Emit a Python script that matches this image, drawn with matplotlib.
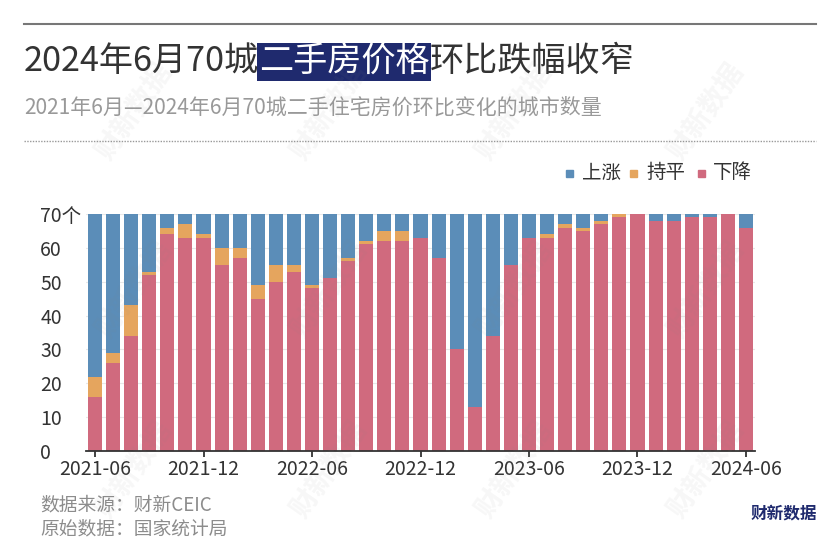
import matplotlib.pyplot as plt
import numpy as np
import pandas as pd
from matplotlib.lines import Line2D
from matplotlib.patches import Rectangle

plt.rcParams['font.family'] = ['Noto Sans CJK SC', 'DejaVu Sans']

# monthly counts of the 70 cities
months = pd.period_range('2021-06', '2024-06', freq='M').strftime('%Y-%m').tolist()
down = [16, 26, 34, 52, 64, 63, 63, 55, 57, 45, 50, 53, 48, 51, 56, 61, 62, 62, 63,
        57, 30, 13, 34, 55, 63, 63, 66, 65, 67, 69, 70, 68, 68, 69, 69, 70, 66]
flat = [6, 3, 9, 1, 2, 4, 1, 5, 3, 4, 5, 2, 1, 0, 1, 1, 3, 3, 0,
        0, 0, 0, 0, 0, 0, 1, 1, 1, 1, 1, 0, 0, 0, 0, 0, 0, 0]
up = [48, 41, 27, 17, 4, 3, 6, 10, 10, 21, 15, 15, 21, 19, 13, 8, 5, 5, 7,
      13, 40, 57, 36, 15, 7, 6, 3, 4, 2, 0, 0, 2, 2, 1, 1, 0, 4]
tick_labels = ['2021-06', '2021-12', '2022-06', '2022-12', '2023-06', '2023-12', '2024-06']
y_ticks = [0, 10, 20, 30, 40, 50, 60, 70]
y_labels = ['0', '10', '20', '30', '40', '50', '60', '70个']

BLUE = '#5b8db8'
ORANGE = '#e5a55e'
RED = '#d06a7e'
NAVY = '#1f2a6e'
W, H = 840, 560

fig = plt.figure(figsize=(8.4, 5.6), dpi=100)
ax = fig.add_axes([86 / W, 109 / H, 669 / W, 237 / H])

x = np.arange(len(months))
down_a = np.array(down)
flat_a = np.array(flat)
ax.bar(x, down_a, width=0.78, color=RED, zorder=2)
ax.bar(x, flat_a, bottom=down_a, width=0.78, color=ORANGE, zorder=2)
ax.bar(x, up, bottom=down_a + flat_a, width=0.78, color=BLUE, zorder=2)

ax.set_xlim(-0.5, len(months) - 0.5)
ax.set_ylim(0, 70)
for s in ['top', 'right', 'left']:
    ax.spines[s].set_visible(False)
ax.spines['bottom'].set_color('#333333')
ax.spines['bottom'].set_linewidth(1.3)
ax.spines['bottom'].set_zorder(3)

ax.set_yticks(y_ticks)
ax.set_yticklabels(y_labels)
ax.tick_params(axis='y', length=0, pad=33, labelsize=14, labelcolor='#333333')
for lab in ax.get_yticklabels():
    lab.set_horizontalalignment('left')
ax.yaxis.grid(True, color='#e8e8e8', lw=0.8, zorder=0)
ax.set_axisbelow(True)

ax.set_xticks([months.index(t) for t in tick_labels])
ax.set_xticklabels(tick_labels)
ax.tick_params(axis='x', length=4, width=1.3, color='#333333', labelsize=14,
               labelcolor='#333333', pad=2)

# title with highlighted part
t1 = fig.text(24 / W, 1 - 62 / H, '2024年6月70城', fontsize=24.6, color='#333333', va='center')
t2 = ax.annotate('二手房价格', xy=(1, 0.5), xycoords=t1, va='center', ha='left',
                 fontsize=24.6, color='white', annotation_clip=False,
                 bbox=dict(boxstyle='square,pad=0.05', fc=NAVY, ec='none'))
ax.annotate('环比跌幅收窄', xy=(1, 0.5), xycoords=t2, va='center', ha='left',
            fontsize=24.6, color='#333333', annotation_clip=False)

fig.text(24 / W, 1 - 108 / H, '2021年6月—2024年6月70城二手住宅房价环比变化的城市数量',
         fontsize=15.1, color='#999999', va='center')

fig.add_artist(Line2D([24 / W, 816 / W], [1 - 24 / H] * 2, color='#777777', lw=1.5))
fig.add_artist(Line2D([24 / W, 816 / W], [1 - 141 / H] * 2, color='#999999', lw=1,
                      ls=(0, (1, 1))))

# legend
for cx, tx, col, name in [(569, 582, BLUE, '上涨'), (633, 646, ORANGE, '持平'),
                          (701, 713, RED, '下降')]:
    fig.add_artist(Rectangle(((cx - 3.5) / W, 1 - (173 + 3.5) / H), 7 / W, 7 / H,
                             transform=fig.transFigure, color=col))
    fig.text(tx / W, 1 - 173 / H, name, fontsize=14, color='#333333', va='center')

# footer
fig.text(40 / W, 1 - 505 / H, '数据来源：财新CEIC', fontsize=13.5, color='#8c8c8c', va='center')
fig.text(40 / W, 1 - 529 / H, '原始数据：国家统计局', fontsize=13.5, color='#8c8c8c', va='center')
fig.text(817 / W, 1 - 513 / H, '财新数据', fontsize=12, fontweight='bold', color=NAVY,
         va='center', ha='right')

# faint diagonal watermarks
for wy in [112, 290, 470]:
    for wx in [135, 330, 515, 707]:
        fig.text(wx / W, 1 - wy / H, '财新数据', fontsize=20, fontweight='bold',
                 color='#888888', alpha=0.07, rotation=55, ha='center', va='center',
                 zorder=10)

fig.savefig('out.png', dpi=100)
